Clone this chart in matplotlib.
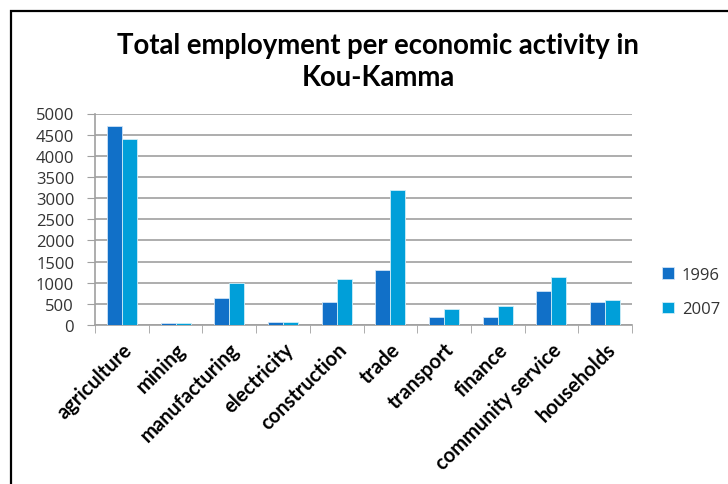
import numpy as np
import matplotlib.pyplot as plt
from matplotlib.patches import Rectangle

# Data
categories = ['agriculture', 'mining', 'manufacturing', 'electricity', 'construction',
              'trade', 'transport', 'finance', 'community service', 'households']
emp_1996 = [4700, 50, 640, 70, 540, 1290, 180, 180, 800, 540]
emp_2007 = [4400, 50, 1000, 70, 1080, 3200, 390, 450, 1140, 590]
yticks = [0, 500, 1000, 1500, 2000, 2500, 3000, 3500, 4000, 4500, 5000]

plt.rcParams['font.family'] = ['Lato', 'DejaVu Sans']

fig = plt.figure(figsize=(7.28, 4.85), dpi=100)
ax = fig.add_axes([95 / 728, 1 - 326 / 485, 537 / 728, 211.5 / 485])

x = np.arange(len(categories))
w = 0.28
ax.bar(x - w / 2, emp_1996, w, color='#1170c8', edgecolor='#cfe3f5', linewidth=0.6, label='1996', zorder=3)
ax.bar(x + w / 2, emp_2007, w, color='#009fd9', edgecolor='#cfeef8', linewidth=0.6, label='2007', zorder=3)

ax.set_xlim(-0.5, len(categories) - 0.5)
ax.set_ylim(0, 5000)
ax.set_yticks(yticks)
ax.set_yticklabels([str(v) for v in yticks], fontsize=12, color='#333333', family='Open Sans')
ax.yaxis.grid(True, color='#a0a0a0', linewidth=1.2, zorder=0)
ax.tick_params(axis='y', length=6, color='#a0a0a0', pad=9)

# category labels at centres, tick marks on the boundaries
ax.set_xticks(x)
ax.set_xticklabels(categories, rotation=45, ha='right', va='top', rotation_mode='anchor',
                   fontsize=14.5, fontweight='bold')
ax.tick_params(axis='x', which='major', length=0, pad=10)
ax.set_xticks(np.arange(-0.5, len(categories)), minor=True)
ax.tick_params(axis='x', which='minor', length=6, color='#a0a0a0')

for s in ['top', 'right']:
    ax.spines[s].set_visible(False)
for s in ['left', 'bottom']:
    ax.spines[s].set_color('#a0a0a0')
    ax.spines[s].set_linewidth(1.2)

fig.text(378 / 728, 1 - 62 / 485, 'Total employment per economic activity in\nKou-Kamma',
         ha='center', va='center', fontsize=19.8, fontweight='bold', linespacing=1.3)

fig.legend(loc='center left', bbox_to_anchor=(647 / 728, 1 - 293 / 485), frameon=False,
           handlelength=0.7, handleheight=0.7, handletextpad=0.5,
           labelspacing=1.1, prop={'family': 'Open Sans', 'size': 12},
           labelcolor='#333333')

# outer chart frame
fig.patches.append(Rectangle((11 / 728, -0.05), 1.1, 1 - 12 / 485 + 0.05,
                             transform=fig.transFigure, fill=False,
                             edgecolor='black', linewidth=1.6))

fig.savefig('out.png', dpi=100)
